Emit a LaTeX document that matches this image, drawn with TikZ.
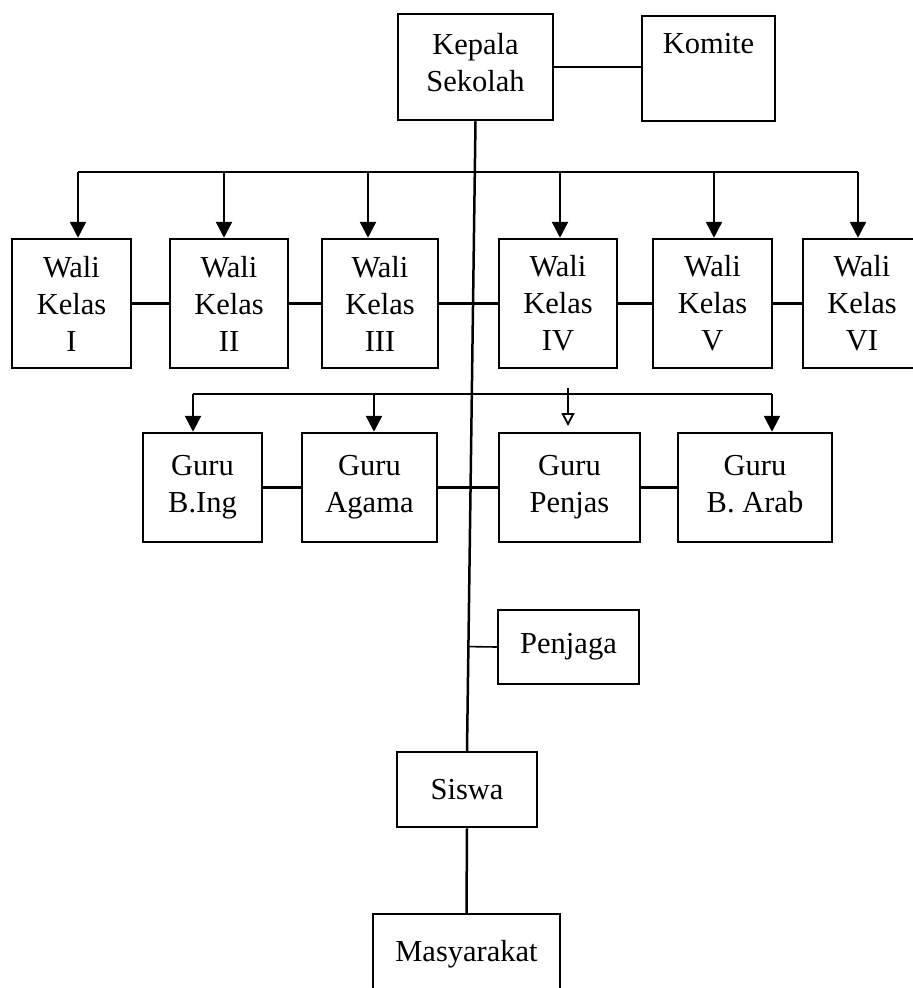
\documentclass[tikz,border=0pt]{standalone}
\usepackage{fontspec}
\setmainfont{Liberation Serif}
\usetikzlibrary{arrows.meta,calc}
\begin{document}
\begin{tikzpicture}[x=1pt,y=-1pt,
  box/.style={draw,line width=2.5pt,inner sep=0pt,align=center,font=\fontsize{30.5}{37}\selectfont},
  wk/.style={box,minimum width=118pt,minimum height=129pt},
  guru/.style={box,minimum height=109pt},
  link/.style={line width=2.5pt},
  thinlink/.style={line width=1.6pt},
  arr/.style={line width=2.5pt,-{Triangle[length=16pt,width=16pt]}},
  openarr/.style={line width=1.8pt,-{Triangle[open,length=13pt,width=13pt]}}]
\useasboundingbox (0,0) rectangle (913,988);
\fill[white] (0,0) rectangle (913,988);
\clip (0,0) rectangle (913,988);

% top
\node[box,minimum width=155pt,minimum height=106pt] (kepala) at (475.5,67) {Kepala\\Sekolah\rule[-10pt]{0pt}{0pt}};
\node[box,minimum width=133pt,text height=37pt,text depth=68pt] (komite) at (708.5,68.5) {Komite};

% wali kelas
\node[wk,minimum width=119pt] (wk1) at (71.5,303.5) {Wali\\Kelas\\I};
\node[wk] (wk2) at (229,303.5) {Wali\\Kelas\\II};
\node[wk,minimum width=116pt] (wk3) at (380,303.5) {Wali\\Kelas\\III};
\node[wk] (wk4) at (558,303.5) {Wali\\Kelas\\IV};
\node[wk,minimum width=119pt] (wk5) at (712.5,303.5) {Wali\\Kelas\\V};
\node[wk] (wk6) at (862,303.5) {Wali\\Kelas\\VI};

% guru
\node[guru,minimum width=119pt] (g1) at (202.5,487.5) {Guru\\B.Ing};
\node[guru,minimum width=135pt] (g2) at (369.5,487.5) {Guru\\Agama};
\node[guru,minimum width=141pt] (g3) at (569.5,487.5) {Guru\\Penjas};
\node[guru,minimum width=154pt] (g4) at (755,487.5) {Guru\\B. Arab\vphantom{g}};

% bottom
\node[box,minimum width=141pt,minimum height=74pt] (penjaga) at (568.5,647) {Penjaga};
\node[box,minimum width=140pt,minimum height=75pt] (siswa) at (467,789.5) {Siswa};
\node[box,minimum width=187pt,minimum height=80pt] (masy) at (466.5,954) {Masyarakat};

% connectors
\draw[link] (kepala.east) -- (kepala.east -| komite.west);
\draw[link] (kepala.south) -- (siswa.north);
\draw[link] (siswa.south) -- (masy.north);
\coordinate (pj) at ($(kepala.south)!(penjaga.west)!(siswa.north)$);
\draw[thinlink] (penjaga.west) -- (pj);

% wali kelas bus
\coordinate (b1) at (78,172);
\coordinate (b2) at (224,172);
\coordinate (b3) at (368,172);
\coordinate (b4) at (560,172);
\coordinate (b5) at (714,172);
\coordinate (b6) at (858,172);
\draw[link] (b1) -- (b6);
\draw[arr] (b1) -- (b1 |- wk1.north);
\draw[arr] (b2) -- (b2 |- wk2.north);
\draw[arr] (b3) -- (b3 |- wk3.north);
\draw[arr] (b4) -- (b4 |- wk4.north);
\draw[arr] (b5) -- (b5 |- wk5.north);
\draw[arr] (b6) -- (b6 |- wk6.north);
\draw[link] (wk1.east) -- (wk2.west);
\draw[link] (wk2.east) -- (wk3.west);
\draw[link] (wk3.east) -- (wk4.west);
\draw[link] (wk4.east) -- (wk5.west);
\draw[link] (wk5.east) -- (wk6.west);

% guru bus
\coordinate (c1) at (193,394);
\coordinate (c2) at (374,394);
\coordinate (c3) at (568,388);
\coordinate (c3e) at (568,426);
\coordinate (c4) at (772,394);
\draw[link] (c1) -- (c4);
\draw[arr] (c1) -- (c1 |- g1.north);
\draw[arr] (c2) -- (c2 |- g2.north);
\draw[openarr] (c3) -- (c3e);
\draw[arr] (c4) -- (c4 |- g4.north);
\draw[link] (g1.east) -- (g2.west);
\draw[link] (g2.east) -- (g3.west);
\draw[link] (g3.east) -- (g4.west);
\end{tikzpicture}
\end{document}
